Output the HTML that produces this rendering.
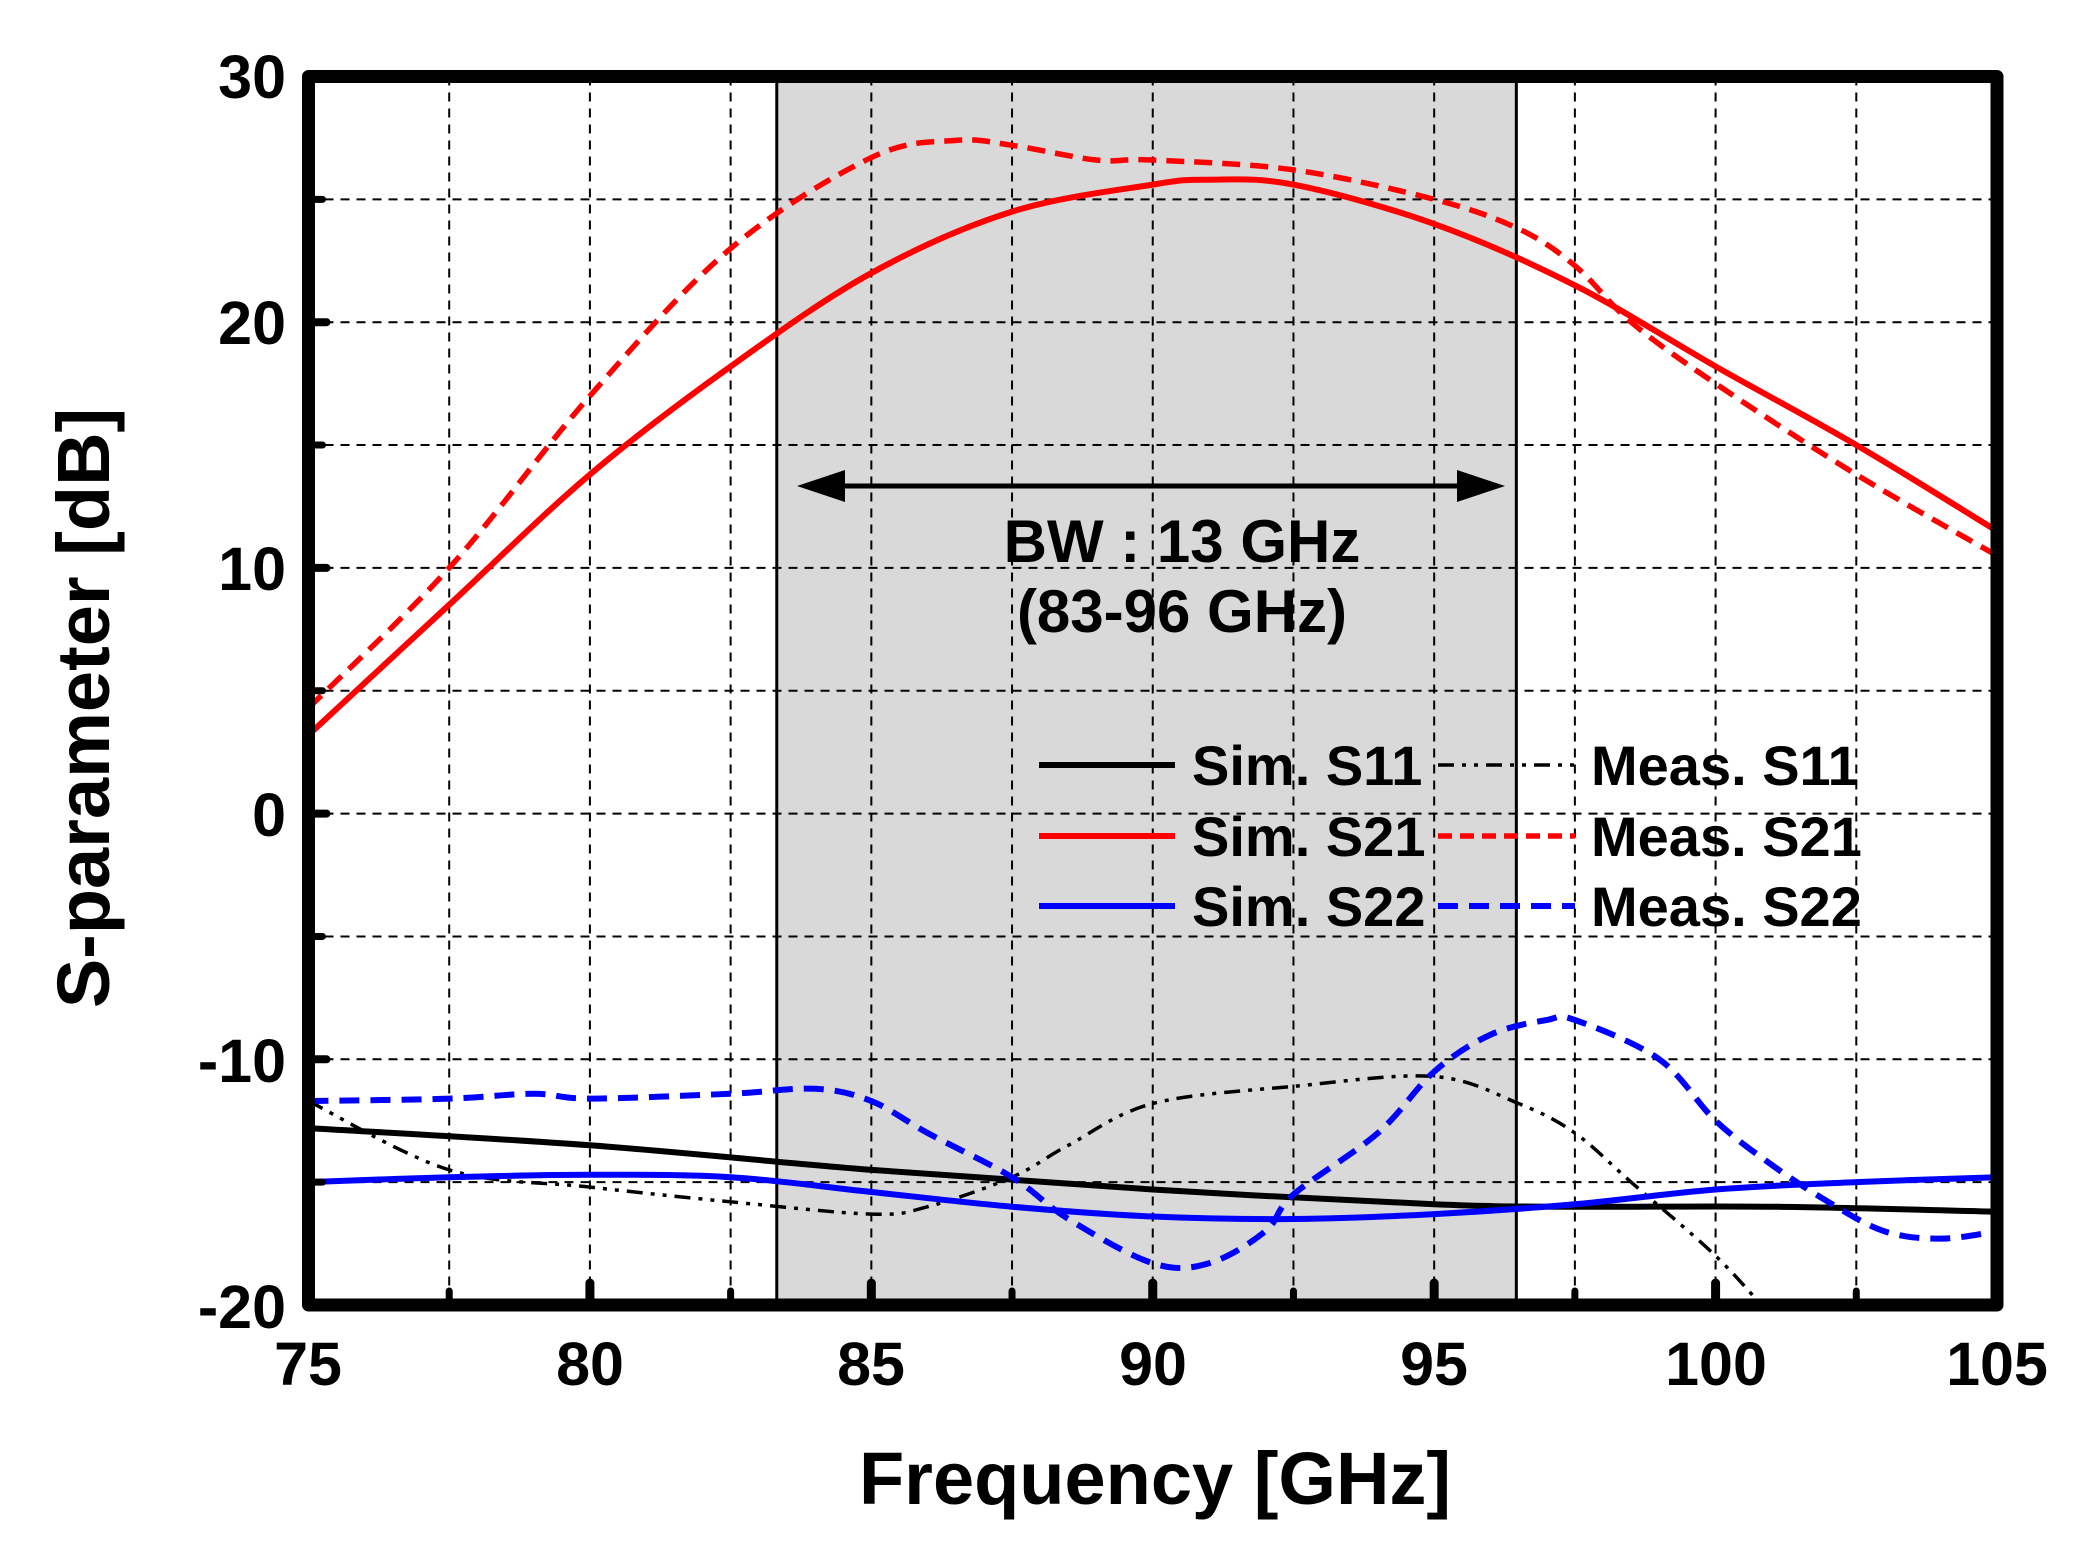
<!DOCTYPE html>
<html><head><meta charset="utf-8"><style>
html,body{margin:0;padding:0;background:#fff}
svg{display:block}
text{font-family:"Liberation Sans",Arial,sans-serif;font-weight:bold;fill:#000}
</style></head><body>
<svg id="s" width="2089" height="1545" viewBox="0 0 2089 1545" xmlns="http://www.w3.org/2000/svg">
<g id="g"></g>
<g font-size="61">
<text x="286" y="98" text-anchor="end">30</text>
<text x="286" y="344" text-anchor="end">20</text>
<text x="286" y="590" text-anchor="end">10</text>
<text x="286" y="836" text-anchor="end">0</text>
<text x="286" y="1082" text-anchor="end">-10</text>
<text x="286" y="1328" text-anchor="end">-20</text>
<text x="308" y="1385" text-anchor="middle">75</text>
<text x="590" y="1385" text-anchor="middle">80</text>
<text x="871" y="1385" text-anchor="middle">85</text>
<text x="1153" y="1385" text-anchor="middle">90</text>
<text x="1434" y="1385" text-anchor="middle">95</text>
<text x="1716" y="1385" text-anchor="middle">100</text>
<text x="1997" y="1385" text-anchor="middle">105</text>
</g>
<text x="1155" y="1504" font-size="74" text-anchor="middle">Frequency [GHz]</text>
<text transform="translate(109,708) rotate(-90)" font-size="74" text-anchor="middle">S-parameter [dB]</text>
<g font-size="60">
<text x="1182" y="562" text-anchor="middle">BW : 13 GHz</text>
<text x="1182" y="632" text-anchor="middle">(83-96 GHz)</text>
</g>
<g font-size="56">
<text x="1192" y="785">Sim. S11</text>
<text x="1192" y="856">Sim. S21</text>
<text x="1192" y="926">Sim. S22</text>
<text x="1591" y="785">Meas. S11</text>
<text x="1591" y="856">Meas. S21</text>
<text x="1591" y="926">Meas. S22</text>
</g>
</svg>
<script>
const L=308.5,R=1997,T=76.5,B=1305;
const X=f=>L+(f-75)*(R-L)/30, Y=d=>T+(30-d)*(B-T)/50;
const g=document.getElementById('g');let h='';
h+=`<defs><clipPath id="c"><rect x="${L}" y="${T}" width="${R-L}" height="${B-T}"/></clipPath></defs>`;
h+=`<rect x="${X(83.32)}" y="${T}" width="${X(96.46)-X(83.32)}" height="${B-T}" fill="#d9d9d9"/>`;
for(let f=77.5;f<105;f+=2.5)h+=`<line x1="${X(f)}" y1="${T}" x2="${X(f)}" y2="${B}" stroke="#000" stroke-width="2" stroke-dasharray="9,7"/>`;
for(let d=-15;d<30;d+=5)h+=`<line x1="${L}" y1="${Y(d)}" x2="${R}" y2="${Y(d)}" stroke="#000" stroke-width="2" stroke-dasharray="9,7"/>`;
h+=`<line x1="${X(83.32)}" y1="${T}" x2="${X(83.32)}" y2="${B}" stroke="#000" stroke-width="3"/>`;
h+=`<line x1="${X(96.46)}" y1="${T}" x2="${X(96.46)}" y2="${B}" stroke="#000" stroke-width="3"/>`;
function path(p){p=p.map(a=>[X(a[0]),Y(a[1])]);let s=`M${p[0][0]},${p[0][1]}`;
for(let i=0;i<p.length-1;i++){const p0=p[i-1]||p[i],p1=p[i],p2=p[i+1],p3=p[i+2]||p2;
s+=` C${p1[0]+(p2[0]-p0[0])/6},${p1[1]+(p2[1]-p0[1])/6} ${p2[0]-(p3[0]-p1[0])/6},${p2[1]-(p3[1]-p1[1])/6} ${p2[0]},${p2[1]}`;}return s;}
function line(p,c,w,da){h+=`<path d="${path(p)}" fill="none" stroke="${c}" stroke-width="${w}" ${da?`stroke-dasharray="${da}"`:''} clip-path="url(#c)"/>`;}
line([[75,-12.8],[80,-13.5],[85,-14.5],[90,-15.3],[95,-15.9],[97.5,-16],[101,-16],[105,-16.2]],'#000',6);
line([[75,-11.7],[77.5,-14.5],[80,-15.2],[82.5,-15.8],[85,-16.3],[86,-16],[87.5,-14.8],[88.5,-13.5],[90,-11.8],[92.5,-11.1],[95,-10.7],[96.5,-11.8],[97.5,-13],[98.5,-15],[100,-18],[101,-20.5]],'#000',3.5,'16,8,4,8,4,8');
line([[75,-15],[77.5,-14.8],[80,-14.7],[82.5,-14.8],[85,-15.4],[87.5,-16],[90,-16.4],[92.5,-16.5],[95,-16.3],[97.5,-15.9],[100,-15.3],[102.5,-15],[105,-14.8]],'#0000ff',6);
line([[75,-11.7],[77.5,-11.6],[79,-11.4],[80,-11.6],[82.5,-11.4],[84,-11.2],[85,-11.7],[86,-13],[87.5,-14.8],[88.5,-16.5],[90,-18.3],[91,-18.3],[92,-17],[92.5,-15.5],[94,-13],[95,-10.5],[96,-9],[97,-8.4],[97.5,-8.4],[99,-10],[100,-12.5],[101,-14.3],[102,-15.8],[103,-17],[104,-17.3],[105,-17]],'#0000ff',6,'20,11');
line([[75,3.2],[77.5,8.5],[80,13.8],[82.5,18.2],[85,22],[87.5,24.5],[90,25.6],[91,25.8],[92.5,25.6],[95,24],[97.5,21.5],[100,18.2],[102.5,15],[105,11.5]],'#ff0000',6);
line([[75,4.3],[77.5,10],[80,17],[82.5,23],[85,26.7],[86.5,27.4],[87.5,27.2],[89,26.6],[90,26.6],[92.5,26.2],[95,25],[96.5,23.8],[97.5,22.3],[98.5,20],[100,17.5],[102.5,13.8],[105,10.5]],'#ff0000',5.5,'18,10');
h+=`<line x1="820" y1="486" x2="1480" y2="486" stroke="#000" stroke-width="5"/>`;
h+=`<polygon points="797,486 845,470 845,502" fill="#000"/><polygon points="1505,486 1457,470 1457,502" fill="#000"/>`;
h+=`<line x1="1039" y1="765" x2="1175" y2="765" stroke="#000" stroke-width="6"/>`;
h+=`<line x1="1039" y1="836" x2="1175" y2="836" stroke="#f00" stroke-width="6"/>`;
h+=`<line x1="1039" y1="906" x2="1175" y2="906" stroke="#00f" stroke-width="6"/>`;
h+=`<line x1="1438" y1="765" x2="1575" y2="765" stroke="#000" stroke-width="3.5" stroke-dasharray="16,8,4,8,4,8"/>`;
h+=`<line x1="1438" y1="836" x2="1575" y2="836" stroke="#f00" stroke-width="5.5" stroke-dasharray="14,8"/>`;
h+=`<line x1="1438" y1="906" x2="1575" y2="906" stroke="#00f" stroke-width="6" stroke-dasharray="20,11"/>`;
for(let f=77.5;f<105;f+=2.5){const maj=Math.abs(f%5)<0.01;h+=`<line x1="${X(f)}" y1="${B}" x2="${X(f)}" y2="${B-(maj?22:14)}" stroke="#000" stroke-width="${maj?9:7}" stroke-linecap="round"/>`;}
for(let d=-15;d<30;d+=5){const maj=Math.abs(d%10)<0.01;h+=`<line x1="${L}" y1="${Y(d)}" x2="${L+(maj?18:14)}" y2="${Y(d)}" stroke="#000" stroke-width="${maj?8:7}" stroke-linecap="round"/>`;}
h+=`<rect x="${L}" y="${T}" width="${R-L}" height="${B-T}" fill="none" stroke="#000" stroke-width="13" stroke-linejoin="round"/>`;
g.innerHTML=h;
</script>
</body></html>
